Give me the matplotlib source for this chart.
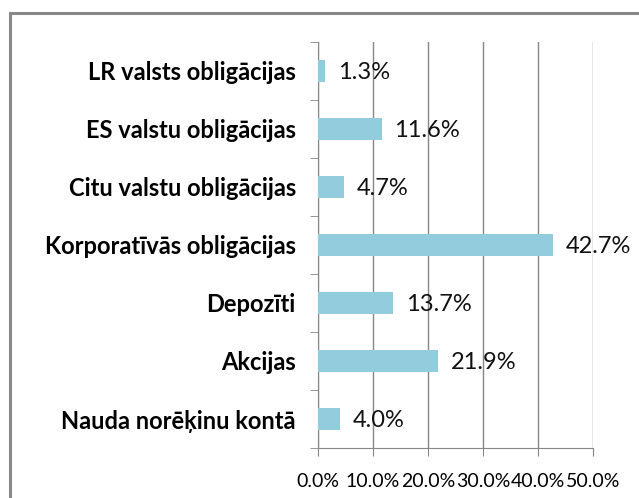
import matplotlib.pyplot as plt
from matplotlib.patches import Rectangle
from matplotlib.ticker import FixedLocator, NullFormatter

categories = ["LR valsts obligācijas", "ES valstu obligācijas", "Citu valstu obligācijas",
              "Korporatīvās obligācijas", "Depozīti", "Akcijas", "Nauda norēķinu kontā"]
values = [1.3, 11.6, 4.7, 42.7, 13.7, 21.9, 4.0]
xticks = [0, 10, 20, 30, 40, 50]

bar_color = "#93CDDD"
grid_color = "#868686"

fig = plt.figure(figsize=(6.39, 4.98), dpi=100)
fig.patches.append(Rectangle((10 / 639, -0.1), 1.2, 1 - 13 / 498 + 0.1, transform=fig.transFigure,
                             fill=False, edgecolor="#888888", linewidth=2.2))
ax = fig.add_axes([318 / 639, 50 / 498, 275 / 639, 406 / 498])

pos = list(range(len(categories)))[::-1]
ax.barh(pos, values, height=0.38, color=bar_color, zorder=3)
for p, v in zip(pos, values):
    ax.annotate(f"{v:.1f}%", (v, p), xytext=(9, -1), textcoords="offset points",
                va="center", ha="left", fontsize=17, family="Lato", color="#111111", zorder=4)

ax.set_xlim(0, 50)
ax.set_ylim(-0.5, len(categories) - 0.5)
ax.set_xticks(xticks)
ax.set_xticklabels([f"{t:.1f}%" for t in xticks], fontsize=14, family="Lato")
ax.set_yticks(pos)
ax.set_yticklabels(categories, fontsize=17, family="Lato", fontweight="bold")
ax.yaxis.set_minor_locator(FixedLocator([i - 0.5 for i in range(len(categories) + 1)]))
ax.yaxis.set_minor_formatter(NullFormatter())
ax.tick_params(axis="y", which="major", length=0, pad=16)
ax.tick_params(axis="y", which="minor", length=6, color=grid_color)
ax.tick_params(axis="x", length=6, color=grid_color, pad=12)

ax.grid(axis="x", color=grid_color, linewidth=1, zorder=0)
for s in ["top", "right"]:
    ax.spines[s].set_visible(False)
for s in ["left", "bottom"]:
    ax.spines[s].set_color(grid_color)

fig.savefig("out.png", dpi=100)
